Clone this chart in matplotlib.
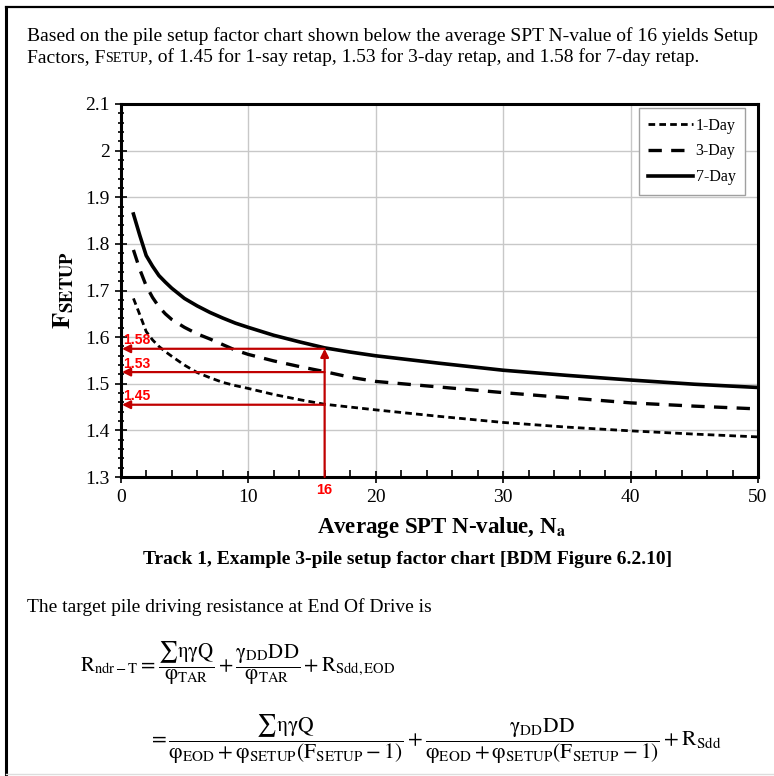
import matplotlib
matplotlib.use("Agg")
import matplotlib.pyplot as plt
from matplotlib.ticker import MultipleLocator, FixedLocator

# values
n_values = [1, 1.5, 2, 2.5, 3, 3.5, 4, 5, 6, 7, 8, 9, 10, 12, 14, 16, 18, 20, 25, 30, 35, 40, 45, 50]
f_1day = [1.683, 1.648, 1.612, 1.594, 1.580, 1.569, 1.559, 1.540, 1.524, 1.513, 1.503, 1.496,
          1.490, 1.477, 1.466, 1.456, 1.450, 1.444, 1.430, 1.417, 1.407, 1.399, 1.392, 1.386]
f_3day = [1.787, 1.745, 1.710, 1.685, 1.665, 1.650, 1.638, 1.621, 1.607, 1.596, 1.584, 1.572,
          1.563, 1.549, 1.537, 1.526, 1.514, 1.505, 1.493, 1.481, 1.470, 1.459, 1.452, 1.446]
f_7day = [1.864, 1.818, 1.775, 1.752, 1.732, 1.718, 1.705, 1.683, 1.667, 1.653, 1.641, 1.630,
          1.621, 1.604, 1.590, 1.577, 1.568, 1.560, 1.544, 1.529, 1.518, 1.508, 1.499, 1.492]
series_labels = ["1-Day", "3-Day", "7-Day"]

n_pick = 16
f_pick = [1.575, 1.525, 1.455]
f_pick_labels = ["1.58", "1.53", "1.45"]

y_ticks = [1.3, 1.4, 1.5, 1.6, 1.7, 1.8, 1.9, 2.0, 2.1]
y_tick_labels = ["1.3", "1.4", "1.5", "1.6", "1.7", "1.8", "1.9", "2", "2.1"]
x_ticks = [0, 10, 20, 30, 40, 50]

serif = "Liberation Serif"
plt.rcParams["mathtext.fontset"] = "stix"

fig = plt.figure(figsize=(7.74, 7.76), dpi=100)
W, H = 774.0, 776.0


def px(x, y):
    # pixel coords (top-left origin) -> figure fraction
    return x / W, 1 - y / H


# document frame: black left/top edge, light grey bottom
fig.add_artist(plt.Line2D([6 / W, 6 / W], [0.003, 1 - 7 / H], color="black", lw=2.2))
fig.add_artist(plt.Line2D([6 / W, 1.0], [1 - 7 / H, 1 - 7 / H], color="black", lw=1.6))
fig.add_artist(plt.Line2D([6 / W, 1.0], [1 - 774 / H, 1 - 774 / H], color="#dddddd", lw=1.0))

# intro paragraph
fs_body = 14
fig.text(*px(27, 41), "Based on the pile setup factor chart shown below the average SPT N-value of 16 yields Setup",
         fontsize=fs_body, family=serif, va="baseline")

pieces = [("Factors, F", fs_body), ("SETUP", fs_body * 0.72),
          (", of 1.45 for 1-say retap, 1.53 for 3-day retap, and 1.58 for 7-day retap.", fs_body)]
fig.canvas.draw()
renderer = fig.canvas.get_renderer()
x0 = 27 / W
for s, fs in pieces:
    t = fig.text(x0, 1 - 62 / H, s, fontsize=fs, family=serif, va="baseline")
    bb = t.get_window_extent(renderer=renderer)
    x0 += bb.width / W

ax = fig.add_axes([120.7 / W, 1 - 477 / H, (758 - 120.7) / W, (477 - 104) / H])

ax.plot(n_values, f_1day, color="black", lw=2.0, dashes=(2.4, 1.5), label=series_labels[0])
ax.plot(n_values, f_3day, color="black", lw=2.4, dashes=(4.0, 2.8), label=series_labels[1])
ax.plot(n_values, f_7day, color="black", lw=2.6, label=series_labels[2])

ax.set_xlim(0, 50)
ax.set_ylim(1.3, 2.1)
ax.xaxis.set_major_locator(FixedLocator(x_ticks))
ax.xaxis.set_minor_locator(MultipleLocator(2))
ax.yaxis.set_major_locator(FixedLocator(y_ticks))
ax.set_yticklabels(y_tick_labels)
ax.yaxis.set_minor_locator(MultipleLocator(0.02))
ax.grid(True, which="major", color="#c8c8c8", lw=1.0)
ax.set_axisbelow(True)
for sp in ax.spines.values():
    sp.set_linewidth(2.2)
ax.tick_params(axis="both", which="both", labelsize=14, width=1.2)
ax.tick_params(axis="x", which="major", direction="inout", length=8, pad=5)
ax.tick_params(axis="x", which="minor", direction="in", length=5)
ax.tick_params(axis="y", which="major", direction="inout", length=8, pad=4)
ax.tick_params(axis="y", which="minor", direction="inout", length=5)
for lab in ax.get_xticklabels() + ax.get_yticklabels():
    lab.set_family(serif)

ax.set_ylabel(r"$\mathbf{F}_{\mathbf{SETUP}}$", fontsize=19, labelpad=6)

leg = ax.legend(loc="upper right", bbox_to_anchor=((745 - 120.7) / (758 - 120.7), (477 - 108) / (477 - 104)),
                prop={"family": serif, "size": 11.5}, fancybox=False,
                edgecolor="#a0a0a0", framealpha=1, handlelength=2.8, handletextpad=0.15,
                borderaxespad=0, labelspacing=0.62, borderpad=0.6)
leg.get_frame().set_linewidth(1.0)

# red read-off arrows
arrow_red = "#c00000"
for v, lab in zip(f_pick, f_pick_labels):
    ax.annotate("", xy=(0.1, v), xytext=(n_pick, v),
                arrowprops=dict(arrowstyle="-|>", color=arrow_red, lw=1.6, mutation_scale=12,
                                shrinkA=0, shrinkB=0))
    ax.annotate(lab, xy=(0, v), xytext=(2, 1), textcoords="offset points", ha="left", va="bottom",
                color="#ff0000", fontsize=10, fontweight="bold", family="Liberation Sans")
ax.annotate("", xy=(n_pick, f_pick[0]), xytext=(n_pick, 1.3),
            arrowprops=dict(arrowstyle="-|>", color=arrow_red, lw=1.6, mutation_scale=12,
                            shrinkA=0, shrinkB=0))
ax.annotate(str(n_pick), xy=(n_pick, 1.3), xytext=(0, -4), textcoords="offset points",
            ha="center", va="top", color="#ff0000", fontsize=10.5, fontweight="bold",
            family="Liberation Sans", annotation_clip=False)

# axis title and caption
fig.text(*px(442, 527), r"Average SPT N-value, N$_{\mathbf{a}}$", fontsize=16.5, family=serif,
         fontweight="bold", ha="center", va="center")
fig.text(*px(408, 560), "Track 1, Example 3-pile setup factor chart [BDM Figure 6.2.10]",
         fontsize=14, family=serif, fontweight="bold", ha="center", va="center")

fig.text(*px(27, 607), "The target pile driving resistance at End Of Drive is",
         fontsize=fs_body, family=serif, ha="left", va="center")

eq1 = (r"$\mathrm{R}_{\mathrm{ndr-T}} = \dfrac{\sum\mathrm{\eta\gamma Q}}{\mathrm{\varphi}_{\mathrm{TAR}}}"
       r" + \dfrac{\mathrm{\gamma}_{\mathrm{DD}}\mathrm{DD}}{\mathrm{\varphi}_{\mathrm{TAR}}} + \mathrm{R}_{\mathrm{Sdd,EOD}}$")
eq2 = (r"$= \dfrac{\sum\mathrm{\eta\gamma Q}}{\mathrm{\varphi}_{\mathrm{EOD}} + \mathrm{\varphi}_{\mathrm{SETUP}}"
       r"(\mathrm{F}_{\mathrm{SETUP}} - 1)} + \dfrac{\mathrm{\gamma}_{\mathrm{DD}}\mathrm{DD}}{\mathrm{\varphi}_{\mathrm{EOD}}"
       r" + \mathrm{\varphi}_{\mathrm{SETUP}}(\mathrm{F}_{\mathrm{SETUP}} - 1)} + \mathrm{R}_{\mathrm{Sdd}}$")
fig.text(*px(80, 663), eq1, fontsize=15, ha="left", va="center")
fig.text(*px(148, 739), eq2, fontsize=15.5, ha="left", va="center")

fig.savefig("out.png", dpi=100)
